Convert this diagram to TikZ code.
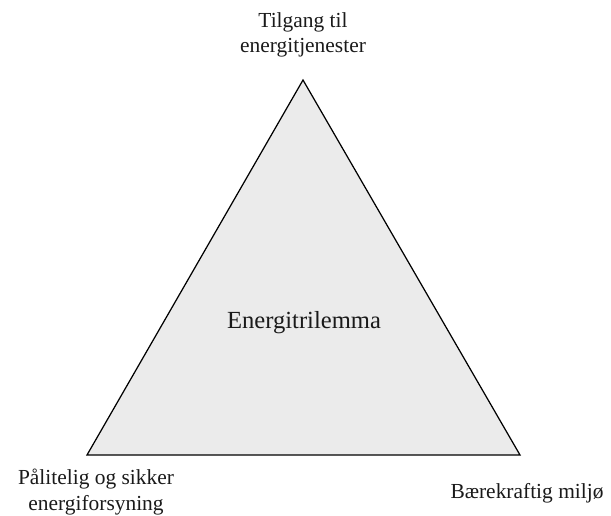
\documentclass[tikz,border=0pt]{standalone}
\usepackage{fontspec}
\setmainfont{Liberation Serif}
\definecolor{trifill}{HTML}{EBEBEB}
\definecolor{textgray}{HTML}{1A1A1A}
\begin{document}
\begin{tikzpicture}[x=0.02cm, y=-0.02cm, font=\fontsize{12.2}{14.6}\selectfont, text=textgray]
  \useasboundingbox (0, 0) rectangle (611, 515);
  \coordinate (top) at (303, 80);
  \coordinate (left) at (87, 455);
  \coordinate (right) at (520, 455);
  \draw[fill=trifill, line width=0.7pt, line join=miter] (top) -- (left) -- (right) -- cycle;
  \node[align=center] (access) at (303, 35) {Tilgang til\\energitjenester};
  \node[align=center] (secure) at (96, 492) {Pålitelig og sikker\\energiforsyning};
  \node (green) at (527, 493) {Bærekraftig miljø};
  \node[font=\fontsize{14}{16}\selectfont] (trilemma) at (304, 323) {Energitrilemma};
\end{tikzpicture}
\end{document}
